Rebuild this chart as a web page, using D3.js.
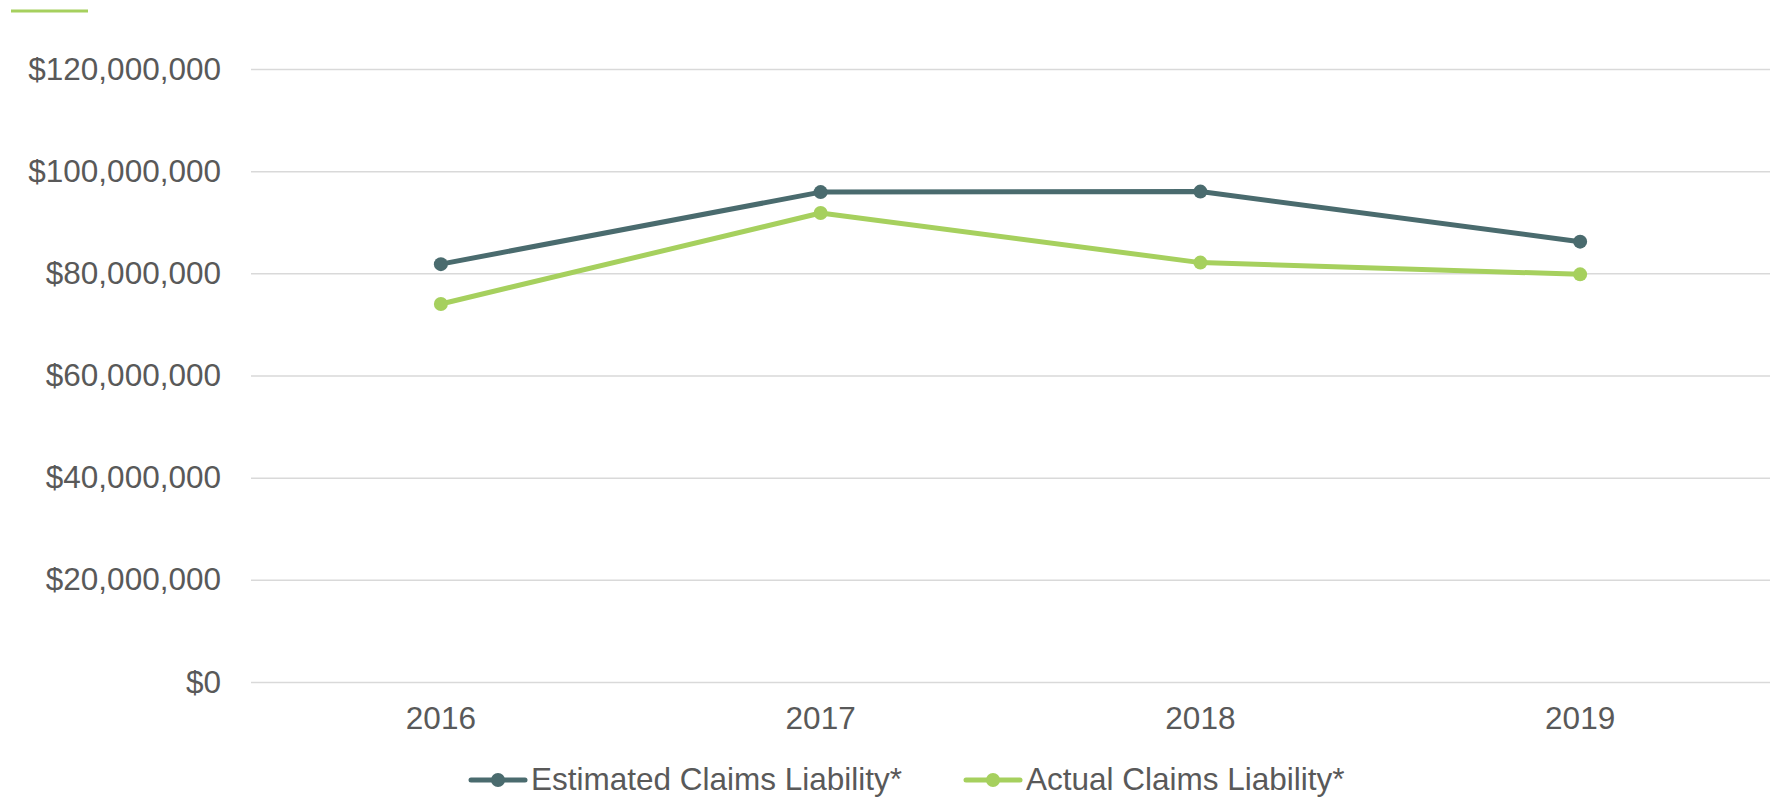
<!DOCTYPE html>
<html>
<head>
<meta charset="utf-8">
<script src="https://cdnjs.cloudflare.com/ajax/libs/d3/7.8.5/d3.min.js"></script>
<style>
  html, body { margin: 0; padding: 0; background: #ffffff; }
  svg { display: block; font-family: "Liberation Sans", Arial, sans-serif; }
</style>
</head>
<body>
<svg id="chart" width="1779" height="799"></svg>
<script>
// Claims liability by year
const years = ["2016", "2017", "2018", "2019"];
const estimatedClaims = [81800000, 95900000, 96000000, 86200000];
const actualClaims = [74000000, 91800000, 82100000, 79800000];
const yTicks = [0, 20000000, 40000000, 60000000, 80000000, 100000000, 120000000];
const seriesNames = ["Estimated Claims Liability*", "Actual Claims Liability*"];

const colors = { estimated: "#4a6b6e", actual: "#a6d05e" };
const textColor = "#595959";

const svg = d3.select("#chart");
const margin = { left: 251, right: 9, top: 69, bottom: 117 };
const W = 1779, H = 799;

const x = d3.scaleBand().domain(years).range([margin.left, W - margin.right]);
const y = d3.scaleLinear().domain([0, 120000000]).range([H - margin.bottom, margin.top]);

// accent rule in the top-left corner
svg.append("line")
  .attr("x1", 11).attr("x2", 88).attr("y1", 11).attr("y2", 11)
  .attr("stroke", colors.actual).attr("stroke-width", 3);

// horizontal gridlines with dollar labels
const yAxis = d3.axisLeft(y)
  .tickValues(yTicks)
  .tickSize(-(W - margin.left - margin.right))
  .tickPadding(30)
  .tickFormat(d => "$" + d3.format(",")(d));

const gy = svg.append("g")
  .attr("transform", `translate(${margin.left},0)`)
  .call(yAxis);
gy.select(".domain").remove();
gy.selectAll(".tick line").attr("stroke", "#d9d9d9").attr("stroke-width", 1.5);
gy.selectAll(".tick text")
  .attr("fill", textColor)
  .style("font-size", "31.5px");

// year labels
const xAxis = d3.axisBottom(x).tickSize(0).tickPadding(25);
const gx = svg.append("g")
  .attr("transform", `translate(0,${y(0)})`)
  .call(xAxis);
gx.select(".domain").remove();
gx.selectAll(".tick text")
  .attr("fill", textColor)
  .style("font-size", "31.5px");

const cx = d => x(d) + x.bandwidth() / 2;
const line = d3.line().x(d => cx(d.year)).y(d => y(d.value));

const series = [
  { name: seriesNames[0], color: colors.estimated, values: years.map((yr, i) => ({ year: yr, value: estimatedClaims[i] })) },
  { name: seriesNames[1], color: colors.actual, values: years.map((yr, i) => ({ year: yr, value: actualClaims[i] })) }
];

// draw the actual series first so the estimated line sits on top
[series[1], series[0]].forEach(s => {
  svg.append("path")
    .datum(s.values)
    .attr("fill", "none")
    .attr("stroke", s.color)
    .attr("stroke-width", 5)
    .attr("stroke-linejoin", "round")
    .attr("d", line);
  svg.selectAll(null)
    .data(s.values)
    .enter().append("circle")
    .attr("cx", d => cx(d.year))
    .attr("cy", d => y(d.value))
    .attr("r", 7)
    .attr("fill", s.color);
});

// legend
const legendItems = [
  { s: series[0], x0: 471 },
  { s: series[1], x0: 966 }
];
const legendY = 780;
legendItems.forEach(({ s, x0 }) => {
  const g = svg.append("g");
  g.append("line")
    .attr("x1", x0).attr("x2", x0 + 54)
    .attr("y1", legendY).attr("y2", legendY)
    .attr("stroke", s.color).attr("stroke-width", 5)
    .attr("stroke-linecap", "round");
  g.append("circle")
    .attr("cx", x0 + 27).attr("cy", legendY).attr("r", 7)
    .attr("fill", s.color);
  g.append("text")
    .attr("x", x0 + 60).attr("y", legendY + 10)
    .attr("fill", textColor)
    .style("font-size", "31.5px")
    .text(s.name);
});
</script>
</body>
</html>
